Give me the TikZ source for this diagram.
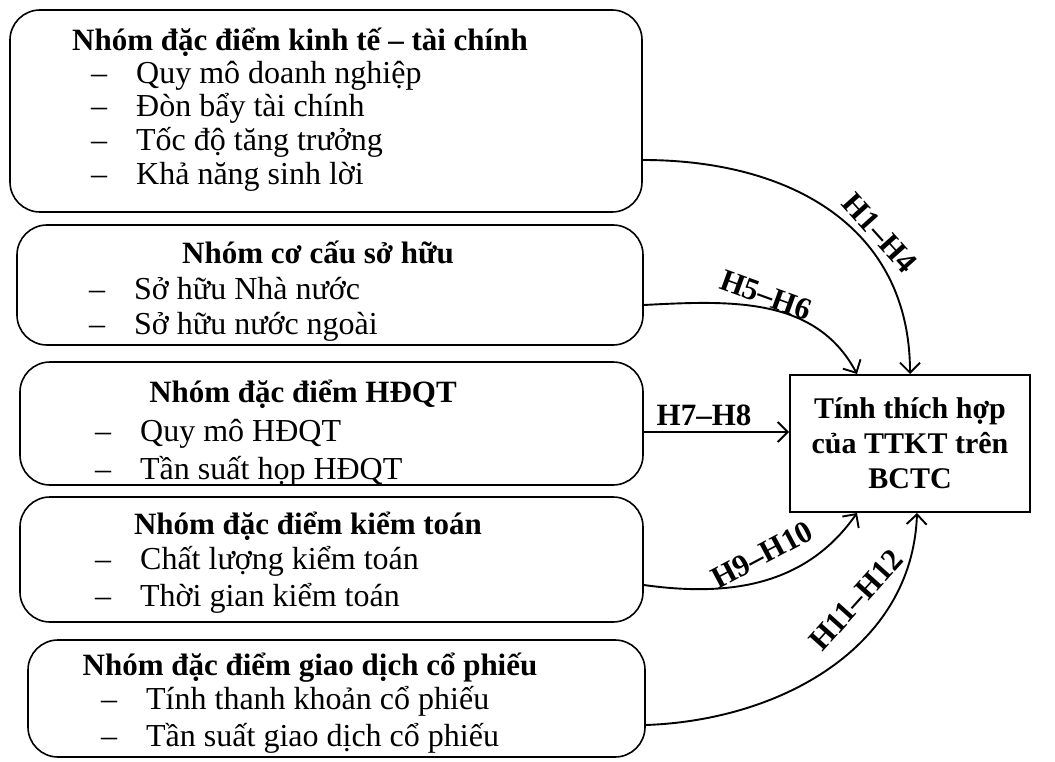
\documentclass[tikz,border=0pt]{standalone}
\usepackage{fontspec}
\setmainfont{Liberation Serif}
\usetikzlibrary{arrows.meta,positioning}
\tikzset{
        % Group boxes on the left
        box_group/.style={draw, line width=1.6pt, rounded corners=30pt, inner sep=0pt},
        % Outcome box
        box_target/.style={draw, line width=2pt, inner sep=0pt, minimum width=240pt, minimum height=137pt, align=center, font=\fontsize{30}{35}\selectfont\bfseries},
        % Box titles
        node_heading/.style={anchor=base, inner sep=0pt, font=\fontsize{31}{36}\selectfont\bfseries},
        % Listed factors
        node_item/.style={anchor=base west, inner sep=0pt, font=\fontsize{32}{36}\selectfont},
        % Hypothesis labels
        label_hyp/.style={inner sep=0pt, font=\fontsize{31}{34}\selectfont\bfseries},
        % Connectors
        link/.style={line width=1.9pt, -{Straight Barb[length=10pt,width=20pt]}}
}
\newcommand{\itemdash}{\makebox[45pt][l]{–}}

\begin{document}
\begin{tikzpicture}[x=1pt, y=-1pt]
            \useasboundingbox (0,0) rectangle (1055,762);

            % Group 1
            \node[box_group, minimum width=632pt, minimum height=202pt] (g1) at (326,111) {};
            \node[node_heading] (g1h) at (300,51) {Nhóm đặc điểm kinh tế – tài chính};
            \node[node_item] (g1a) at (91,84) {\itemdash Quy mô doanh nghiệp};
            \node[node_item] (g1b) at (91,117) {\itemdash Đòn bẩy tài chính};
            \node[node_item] (g1c) at (91,151) {\itemdash Tốc độ tăng trưởng};
            \node[node_item] (g1d) at (91,185) {\itemdash Khả năng sinh lời};

            % Group 2
            \node[box_group, minimum width=626pt, minimum height=120pt] (g2) at (330,285) {};
            \node[node_heading] (g2h) at (318,264) {Nhóm cơ cấu sở hữu};
            \node[node_item] (g2a) at (89,299) {\itemdash Sở hữu Nhà nước};
            \node[node_item] (g2b) at (89,334) {\itemdash Sở hữu nước ngoài};

            % Group 3
            \node[box_group, minimum width=623pt, minimum height=123pt] (g3) at (331.5,423.5) {};
            \node[node_heading] (g3h) at (303,402) {Nhóm đặc điểm HĐQT};
            \node[node_item] (g3a) at (95,441) {\itemdash Quy mô HĐQT};
            \node[node_item] (g3b) at (95,479) {\itemdash Tần suất họp HĐQT};

            % Group 4
            \node[box_group, minimum width=623pt, minimum height=125pt] (g4) at (331.5,559.5) {};
            \node[node_heading] (g4h) at (308,534) {Nhóm đặc điểm kiểm toán};
            \node[node_item] (g4a) at (95,569) {\itemdash Chất lượng kiểm toán};
            \node[node_item] (g4b) at (95,606) {\itemdash Thời gian kiểm toán};

            % Group 5
            \node[box_group, minimum width=617pt, minimum height=117pt] (g5) at (336.5,698.5) {};
            \node[node_heading] (g5h) at (310,675) {Nhóm đặc điểm giao dịch cổ phiếu};
            \node[node_item] (g5a) at (101,709) {\itemdash Tính thanh khoản cổ phiếu};
            \node[node_item] (g5b) at (101,746) {\itemdash Tần suất giao dịch cổ phiếu};

            % Outcome
            \node[box_target] (t) at (910,443.5) {Tính thích hợp\\của TTKT trên\\BCTC};

            % Hypotheses
            \draw[link] ([yshift=-49pt]g1.east) to[out=0, in=90, looseness=1.1] (t.north);
            \draw[link] ([yshift=-20pt]g2.east) to[out=3, in=118] ([xshift=-53pt]t.north);
            \draw[link] ([yshift=-8.5pt]g3.east) -- ([yshift=11.5pt]t.west);
            \draw[link] ([yshift=-25.5pt]g4.east) to[out=-8, in=-125] ([xshift=-53pt]t.south);
            \draw[link] ([yshift=-26.5pt]g5.east) to[out=2, in=-92] ([xshift=7pt]t.south);

            \node[label_hyp, rotate=-48] (h1) at (880,233) {H1–H4};
            \node[label_hyp, rotate=-20] (h2) at (766,295) {H5–H6};
            \node[label_hyp] (h3) at (704,415) {H7–H8};
            \node[label_hyp, rotate=28] (h4) at (762,555) {H9–H10};
            \node[label_hyp, rotate=48] (h5) at (856,600) {H11–H12};
\end{tikzpicture}
\end{document}
